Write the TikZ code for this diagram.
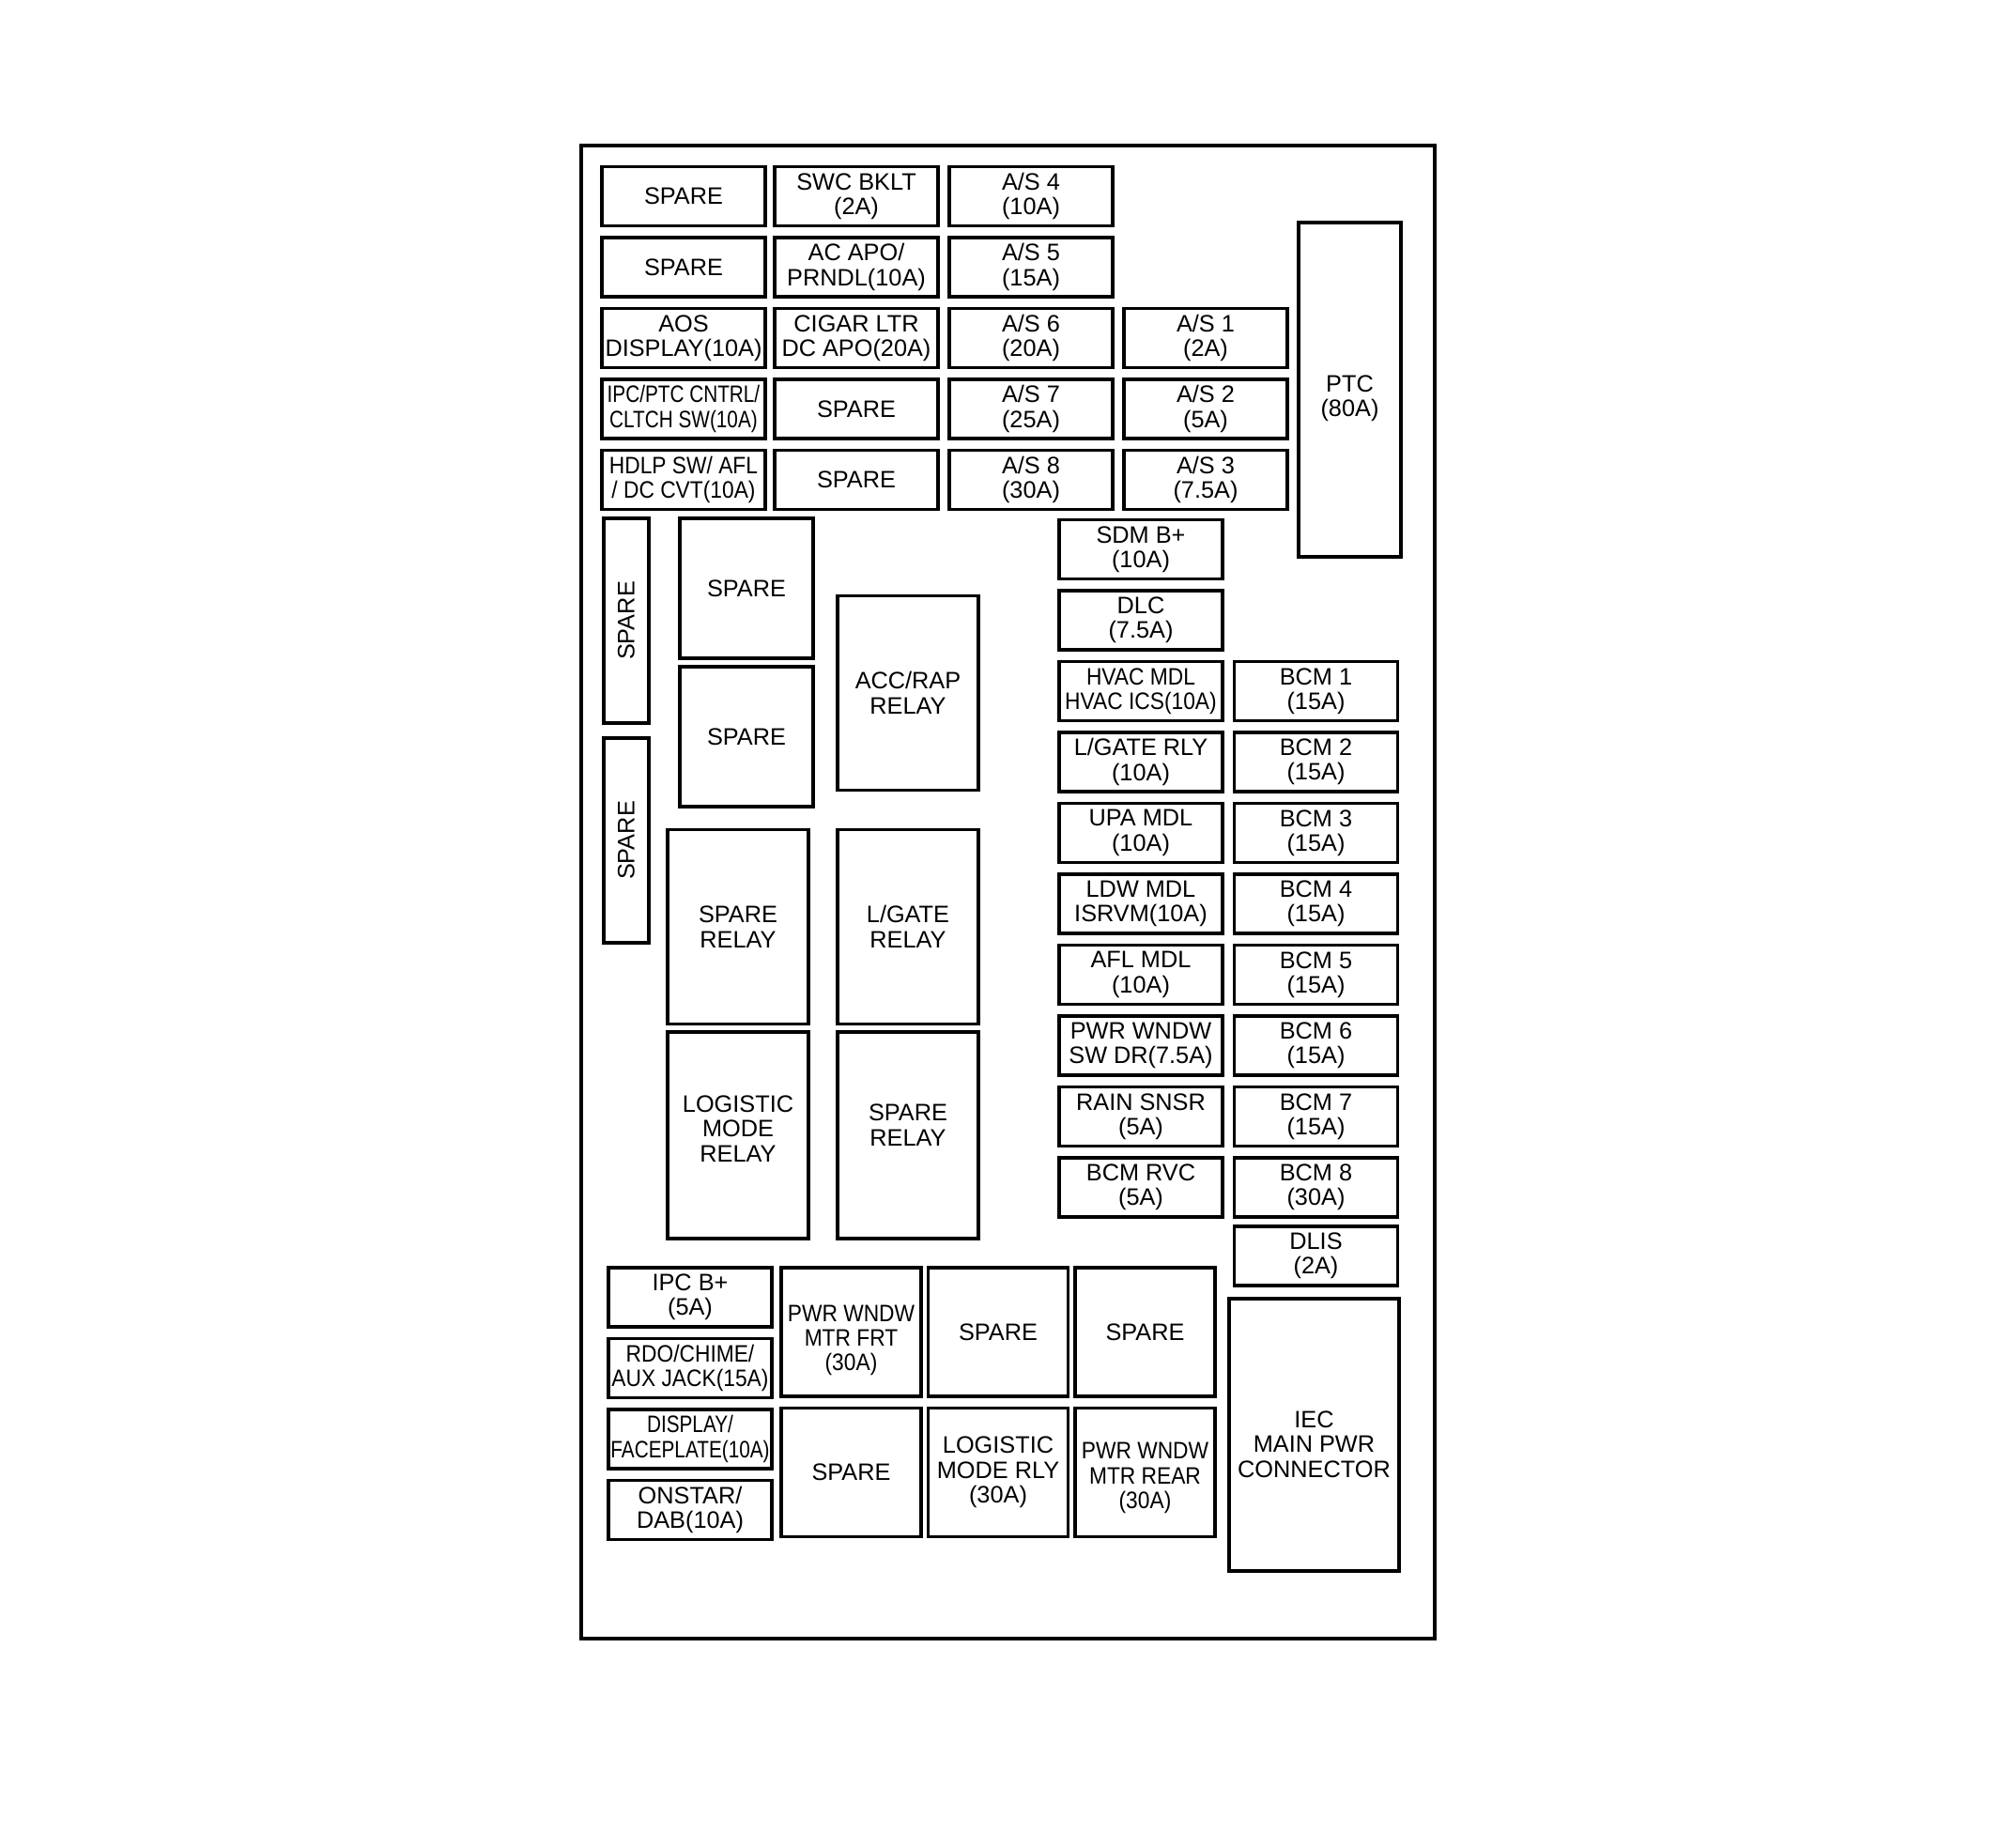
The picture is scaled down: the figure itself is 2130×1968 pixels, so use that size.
\documentclass[tikz,border=0pt]{standalone}
\usepackage{fontspec}
\setmainfont{Liberation Sans}
\newfontfamily\narrowfont[FakeStretch=0.9]{Liberation Sans}
\newfontfamily\narrowerfont[FakeStretch=0.82]{Liberation Sans}
\newcommand{\labelsize}{\fontsize{7.2}{7.5}\selectfont}
\begin{document}
\begin{tikzpicture}[x=0.1mm, y=-0.1mm, line width=0.9pt,
    every node/.style={draw, rectangle, inner sep=0pt, align=center, font=\labelsize},
    fuse/.style={minimum width=17.4mm, minimum height=6.3mm},
    narrow/.style={font=\narrowfont\labelsize},
    narrower/.style={font=\narrowerfont\labelsize},
    vspare/.style={minimum width=21.8mm, minimum height=4.8mm, rotate=90},
    sparebox/.style={minimum width=14.2mm, minimum height=14.9mm},
    relay/.style={minimum width=15mm, minimum height=20.7mm},
    bigfuse/.style={minimum width=14.9mm, minimum height=13.7mm},
    node distance=7.55mm]
        \useasboundingbox (0,0) rectangle (2130,1968);
        \draw (619,155) rectangle (1528,1745);

        % top fuse grid
        \node[fuse] (spare1) at (728,209) {SPARE};
        \node[fuse, below of=spare1] (spare2) {SPARE};
        \node[fuse, below of=spare2] (aos) {AOS\\DISPLAY(10A)};
        \node[fuse, narrower, below of=aos] (ipcptc) {IPC/PTC CNTRL/\\CLTCH SW(10A)};
        \node[fuse, narrow, below of=ipcptc] (hdlp) {HDLP SW/ AFL\\/ DC CVT(10A)};
        \node[fuse] (swc) at (912,209) {SWC BKLT\\(2A)};
        \node[fuse, below of=swc] (acapo) {AC APO/\\PRNDL(10A)};
        \node[fuse, below of=acapo] (cigar) {CIGAR LTR\\DC APO(20A)};
        \node[fuse, below of=cigar] (spare3) {SPARE};
        \node[fuse, below of=spare3] (spare4) {SPARE};
        \node[fuse] (as4) at (1098,209) {A/S 4\\(10A)};
        \node[fuse, below of=as4] (as5) {A/S 5\\(15A)};
        \node[fuse, below of=as5] (as6) {A/S 6\\(20A)};
        \node[fuse, below of=as6] (as7) {A/S 7\\(25A)};
        \node[fuse, below of=as7] (as8) {A/S 8\\(30A)};
        \node[fuse, right of=as6, node distance=18.6mm] (as1) {A/S 1\\(2A)};
        \node[fuse, below of=as1] (as2) {A/S 2\\(5A)};
        \node[fuse, below of=as2] (as3) {A/S 3\\(7.5A)};
        \node[minimum width=10.9mm, minimum height=35.6mm,
            label={[draw=none, yshift=-0.9mm]center:PTC\\(80A)}] (ptc) at (1437.5,415) {};

        % relays
        \node[vspare] (vspare1) at (667,661) {SPARE};
        \node[vspare] (vspare2) at (667,895) {SPARE};
        \node[sparebox] (sbox1) at (795,626.5) {SPARE};
        \node[sparebox] (sbox2) at (795,784.5) {SPARE};
        \node[relay] (accrap) at (967,738) {ACC/RAP\\RELAY};
        \node[relay] (sprelay1) at (786,987) {SPARE\\RELAY};
        \node[relay] (lgate) at (967,987) {L/GATE\\RELAY};
        \node[relay, minimum height=22mm,
            label={[draw=none, yshift=0.7mm]center:LOGISTIC\\MODE\\RELAY}] (logistic) at (786,1209) {};
        \node[relay, minimum height=22mm,
            label={[draw=none, yshift=1.1mm]center:SPARE\\RELAY}] (sprelay2) at (967,1209) {};

        % right fuse columns
        \node[fuse] (sdm) at (1215,585) {SDM B+\\(10A)};
        \node[fuse, below of=sdm] (dlc) {DLC\\(7.5A)};
        \node[fuse, narrow, below of=dlc] (hvac) {HVAC MDL\\HVAC ICS(10A)};
        \node[fuse, below of=hvac] (lgrly) {L/GATE RLY\\(10A)};
        \node[fuse, below of=lgrly] (upa) {UPA MDL\\(10A)};
        \node[fuse, below of=upa] (ldw) {LDW MDL\\ISRVM(10A)};
        \node[fuse, below of=ldw] (afl) {AFL MDL\\(10A)};
        \node[fuse, below of=afl] (pwrsw) {PWR WNDW\\SW DR(7.5A)};
        \node[fuse, below of=pwrsw] (rain) {RAIN SNSR\\(5A)};
        \node[fuse, below of=rain] (bcmrvc) {BCM RVC\\(5A)};
        \node[fuse, right of=hvac, node distance=18.65mm] (bcm1) {BCM 1\\(15A)};
        \node[fuse, below of=bcm1] (bcm2) {BCM 2\\(15A)};
        \node[fuse, below of=bcm2] (bcm3) {BCM 3\\(15A)};
        \node[fuse, below of=bcm3] (bcm4) {BCM 4\\(15A)};
        \node[fuse, below of=bcm4] (bcm5) {BCM 5\\(15A)};
        \node[fuse, below of=bcm5] (bcm6) {BCM 6\\(15A)};
        \node[fuse, below of=bcm6] (bcm7) {BCM 7\\(15A)};
        \node[fuse, below of=bcm7] (bcm8) {BCM 8\\(30A)};
        \node[fuse, below of=bcm8, node distance=7.3mm] (dlis) {DLIS\\(2A)};
        \node[minimum width=18.1mm, minimum height=29mm,
            label={[draw=none, yshift=-1mm]center:IEC\\MAIN PWR\\CONNECTOR}] (iec) at (1399.5,1528) {};

        % bottom group
        \node[fuse] (ipcb) at (735,1381.5) {IPC B+\\(5A)};
        \node[fuse, narrow, below of=ipcb] (rdo) {RDO/CHIME/\\AUX JACK(15A)};
        \node[fuse, narrower, below of=rdo] (display) {DISPLAY/\\FACEPLATE(10A)};
        \node[fuse, below of=display] (onstar) {ONSTAR/\\DAB(10A)};
        \node[bigfuse, label={[draw=none, narrow, yshift=-0.9mm]center:PWR WNDW\\MTR FRT\\(30A)}] (pwrfrt) at (906.5,1418.5) {};
        \node[bigfuse, right of=pwrfrt, node distance=15.65mm] (spare5) {SPARE};
        \node[bigfuse, right of=spare5, node distance=15.65mm] (spare6) {SPARE};
        \node[bigfuse, below of=pwrfrt, node distance=14.95mm] (spare7) {SPARE};
        \node[bigfuse, below of=spare5, node distance=14.95mm] (logrly) {LOGISTIC\\MODE RLY\\(30A)};
        \node[bigfuse, below of=spare6, node distance=14.95mm,
            label={[draw=none, narrow, yshift=-0.6mm]center:PWR WNDW\\MTR REAR\\(30A)}] (pwrrear) {};
\end{tikzpicture}
\end{document}
